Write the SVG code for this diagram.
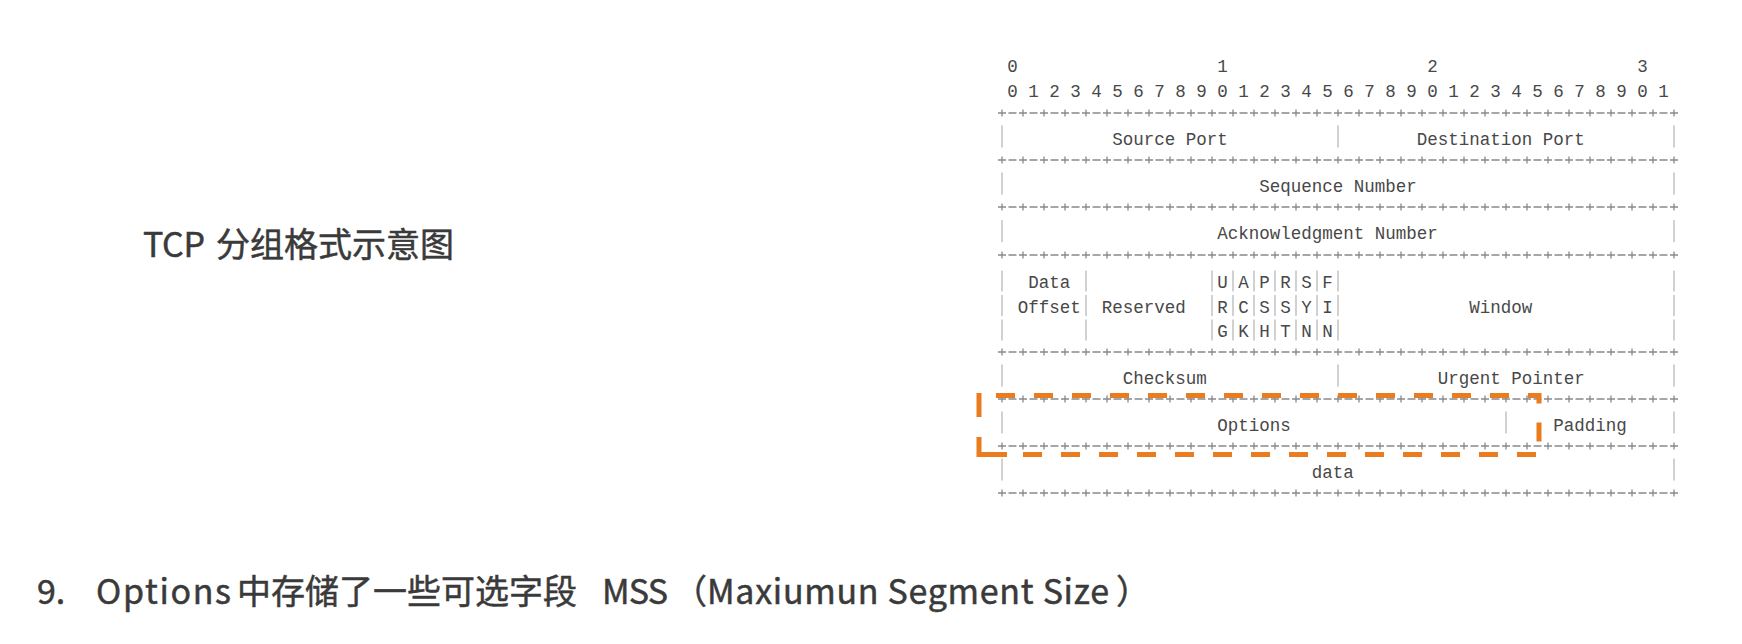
<svg xmlns="http://www.w3.org/2000/svg" width="1742" height="644" viewBox="0 0 1742 644">
  <style>
    .mono { font-family: "Liberation Mono", "DejaVu Sans Mono", monospace; font-size: 17.5px; fill: #484848; }
    .mid { text-anchor: middle; }
    .cap { font-family: "Noto Sans CJK SC", "Noto Sans", sans-serif; font-size: 34px; font-weight: 400; fill: #3a3a3a; stroke: #3a3a3a; stroke-width: 0.5; }
    .rule { fill: none; stroke: #858a8f; stroke-width: 1.3; stroke-dasharray: 8 2.5; }
    .tick { fill: none; stroke: #858a8f; stroke-width: 7; stroke-dasharray: 1.3 19.7; }
    .bar { fill: none; stroke: #c6c6c6; stroke-width: 1.6; }
    .hl { fill: none; stroke: #ea7b1f; stroke-width: 5; }
  </style>

  <rect width="1742" height="644" fill="#ffffff"/>

  <!-- caption on the left -->
  <g id="title">
    <text class="cap" x="143" y="257" textLength="62" lengthAdjust="spacing">TCP</text>
    <text class="cap" x="216" y="257">分组格式示意图</text>
  </g>

  <!-- bit numbering above the header -->
  <g id="bit-numbers" class="mono">
    <text class="mid" x="1012.5" y="72">0</text>
    <text class="mid" x="1222.5" y="72">1</text>
    <text class="mid" x="1432.5" y="72">2</text>
    <text class="mid" x="1642.5" y="72">3</text>
    <text x="1007.25" y="97">0 1 2 3 4 5 6 7 8 9 0 1 2 3 4 5 6 7 8 9 0 1 2 3 4 5 6 7 8 9 0 1</text>
  </g>

  <!-- +-+-+ row separators: dashes plus the vertical arm of each '+' -->
  <g id="separators">
    <path class="rule" d="M998,113H1678M998,160H1678M998,207H1678M998,255H1678M998,352H1678M998,399H1678M998,446H1678M998,493H1678"/>
    <path class="tick" d="M1001.35,113H1676M1001.35,160H1676M1001.35,207H1676M1001.35,255H1676M1001.35,352H1676M1001.35,399H1676M1001.35,446H1676M1001.35,493H1676"/>
  </g>

  <!-- '|' column dividers -->
  <g id="dividers">
    <path class="bar" d="M1002,125.5V147.5M1338,125.5V147.5M1674,125.5V147.5"/>
    <path class="bar" d="M1002,172.5V194.5M1674,172.5V194.5"/>
    <path class="bar" d="M1002,220V242M1674,220V242"/>
    <path class="bar" d="M1002,270.5V291.5M1086,270.5V291.5M1212,270.5V291.5M1233,270.5V291.5M1254,270.5V291.5M1275,270.5V291.5M1296,270.5V291.5M1317,270.5V291.5M1338,270.5V291.5M1674,270.5V291.5"/>
    <path class="bar" d="M1002,295V316M1086,295V316M1212,295V316M1233,295V316M1254,295V316M1275,295V316M1296,295V316M1317,295V316M1338,295V316M1674,295V316"/>
    <path class="bar" d="M1002,319.5V340.5M1086,319.5V340.5M1212,319.5V340.5M1233,319.5V340.5M1254,319.5V340.5M1275,319.5V340.5M1296,319.5V340.5M1317,319.5V340.5M1338,319.5V340.5M1674,319.5V340.5"/>
    <path class="bar" d="M1002,364.5V386.5M1338,364.5V386.5M1674,364.5V386.5"/>
    <path class="bar" d="M1002,411.5V433.5M1506,411.5V433.5M1674,411.5V433.5"/>
    <path class="bar" d="M1002,458.5V480.5M1674,458.5V480.5"/>
  </g>

  <!-- header fields -->
  <g id="field-source-port" class="mono"><text x="1112.25" y="145">Source Port</text></g>
  <g id="field-destination-port" class="mono"><text x="1416.75" y="145">Destination Port</text></g>
  <g id="field-sequence-number" class="mono"><text x="1259.25" y="192">Sequence Number</text></g>
  <g id="field-ack-number" class="mono"><text x="1217.25" y="239">Acknowledgment Number</text></g>
  <g id="field-data-offset" class="mono">
    <text x="1028.25" y="288">Data</text>
    <text x="1017.75" y="312.5">Offset</text>
  </g>
  <g id="field-reserved" class="mono"><text x="1101.75" y="312.5">Reserved</text></g>
  <g id="field-flags" class="mono">
    <text x="1217.25" y="288">U A P R S F</text>
    <text x="1217.25" y="312.5">R C S S Y I</text>
    <text x="1217.25" y="337">G K H T N N</text>
  </g>
  <g id="field-window" class="mono"><text x="1469.25" y="312.5">Window</text></g>
  <g id="field-checksum" class="mono"><text x="1122.75" y="384">Checksum</text></g>
  <g id="field-urgent-pointer" class="mono"><text x="1437.75" y="384">Urgent Pointer</text></g>
  <g id="field-options" class="mono"><text x="1217.25" y="431">Options</text></g>
  <g id="field-padding" class="mono"><text x="1553.25" y="431">Padding</text></g>
  <g id="field-data" class="mono"><text x="1311.75" y="478">data</text></g>

  <!-- dashed orange frame around the Options field -->
  <g id="options-highlight">
    <path class="hl" d="M996,395.5H1539V454.5" stroke-dasharray="19 19"/>
    <path class="hl" d="M1536,454.5H1023" stroke-dasharray="19 19"/>
    <path class="hl" d="M979,437V454.5H1007"/>
    <path class="hl" d="M979,393V417"/>
  </g>

  <!-- note below -->
  <g id="note">
    <text class="cap" x="37" y="604">9.</text>
    <text class="cap" x="96" y="604" textLength="135" lengthAdjust="spacing">Options</text>
    <text class="cap" x="237" y="604">中存储了一些可选字段</text>
    <text class="cap" x="602" y="604" textLength="66" lengthAdjust="spacing">MSS</text>
    <text class="cap" x="673" y="604">（</text>
    <text class="cap" x="707" y="604" textLength="402" lengthAdjust="spacing">Maxiumun Segment Size</text>
    <text class="cap" x="1116" y="604">）</text>
  </g>
</svg>
